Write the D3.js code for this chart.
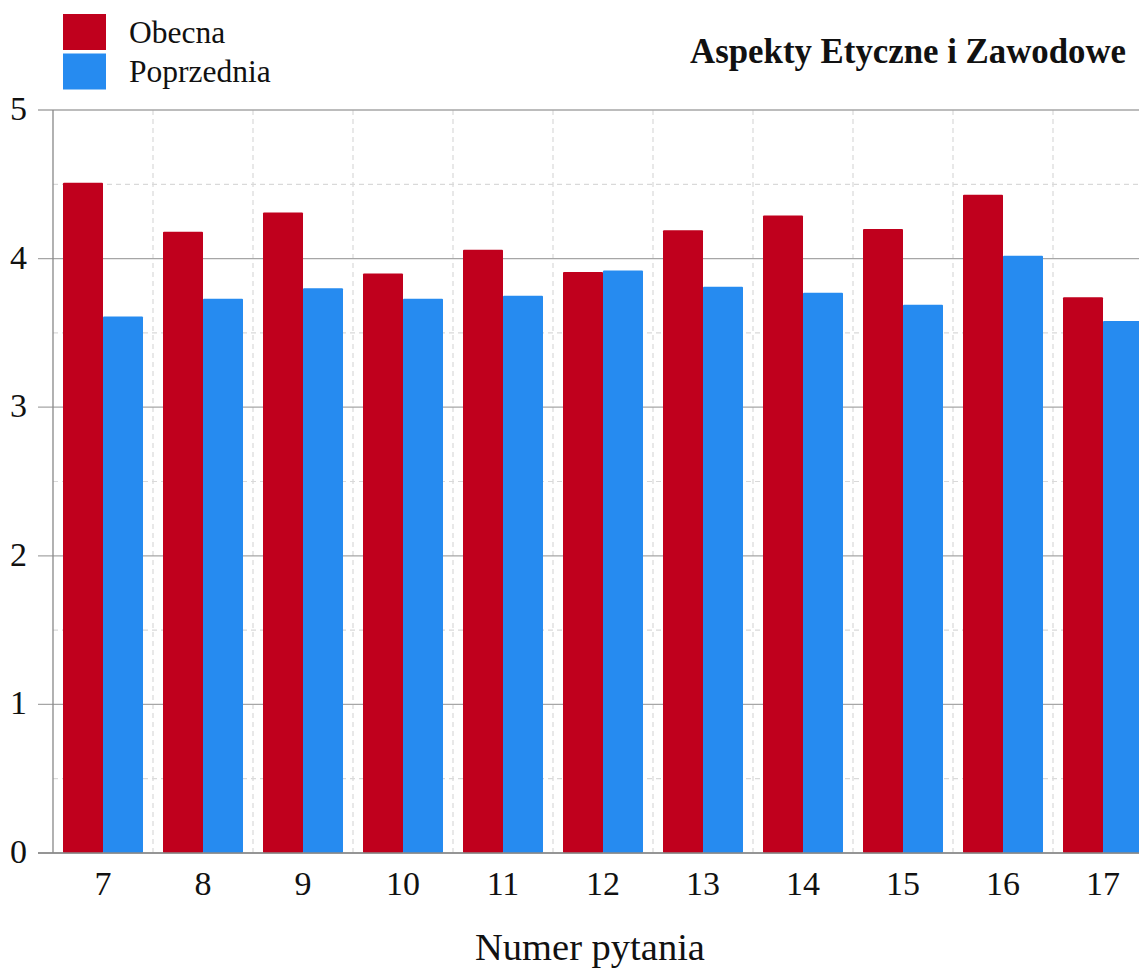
<!DOCTYPE html>
<html><head><meta charset="utf-8">
<script src="https://cdn.jsdelivr.net/npm/d3@7"></script>
<style>body{margin:0;background:#fff}svg{display:block}text{font-family:"Liberation Serif","Times New Roman",serif}</style>
</head><body>
<svg id="c" width="1139" height="971"></svg>
<script>
const categories = ["7","8","9","10","11","12","13","14","15","16","17"];
const obecna = [4.51,4.18,4.31,3.90,4.06,3.91,4.19,4.29,4.20,4.43,3.74];
const poprzednia = [3.61,3.73,3.80,3.73,3.75,3.92,3.81,3.77,3.69,4.02,3.58];
const seriesNames = ["Obecna","Poprzednia"];
const colors = ["#C0001D","#268BF0"];
const yTicks = [0,1,2,3,4,5];
const yMinor = [0.5,1.5,2.5,3.5,4.5];

(function(){
const svg = d3.select("#c");
const pLeft = 53, pTop = 110, pBottom = 853, bandW = 100;
const pRight = pLeft + bandW*categories.length;
const x = d3.scaleBand().domain(categories).range([pLeft, pRight]).paddingInner(0).paddingOuter(0);
const xs = d3.scaleBand().domain(seriesNames).range([0, x.bandwidth()]).paddingInner(0).paddingOuter(0.25);
const y = d3.scaleLinear().domain([0,5]).range([pBottom, pTop]);

const g = svg.append("g");
g.selectAll(".hm").data(yMinor).join("line")
  .attr("x1", pLeft).attr("x2", 1139).attr("y1", d=>y(d)).attr("y2", d=>y(d))
  .attr("stroke","#d9d9d9").attr("stroke-width",1.2).attr("stroke-dasharray","5,4");
g.selectAll(".vg").data(categories.slice(1)).join("line")
  .attr("x1", d=>x(d)).attr("x2", d=>x(d)).attr("y1", pTop).attr("y2", pBottom)
  .attr("stroke","#d9d9d9").attr("stroke-width",1.2).attr("stroke-dasharray","5,4");
g.selectAll(".hg").data(yTicks).join("line")
  .attr("x1", 38).attr("x2", 1139).attr("y1", d=>y(d)).attr("y2", d=>y(d))
  .attr("stroke","#a6a6a6").attr("stroke-width",1.3);

const data = categories.map((c,i)=>({c, vals:[obecna[i], poprzednia[i]]}));
const grp = svg.append("g").selectAll("g").data(data).join("g")
  .attr("transform", d=>`translate(${x(d.c)},0)`);
grp.selectAll("rect").data(d=>d.vals.map((v,j)=>({v, s:seriesNames[j], j}))).join("rect")
  .attr("x", d=>xs(d.s)).attr("width", xs.bandwidth())
  .attr("y", d=>y(d.v)).attr("height", d=>pBottom - y(d.v))
  .attr("fill", d=>colors[d.j]).attr("rx",1);

svg.append("line").attr("x1",pLeft).attr("x2",pLeft).attr("y1",pTop).attr("y2",pBottom)
  .attr("stroke","#888").attr("stroke-width",1.3);
svg.append("line").attr("x1",38).attr("x2",1139).attr("y1",pBottom).attr("y2",pBottom)
  .attr("stroke","#888").attr("stroke-width",1.5);

svg.selectAll(".yl").data(yTicks).join("text")
  .attr("x", 27).attr("y", d=>y(d)+10).attr("text-anchor","end")
  .attr("font-size", 34).attr("fill","#111").text(d=>d);
svg.selectAll(".xl").data(categories).join("text")
  .attr("x", d=>x(d)+x.bandwidth()/2).attr("y", 895).attr("text-anchor","middle")
  .attr("font-size", 34).attr("fill","#111").text(d=>d);

svg.append("text").attr("x", 590).attr("y", 960).attr("text-anchor","middle")
  .attr("font-size", 38.5).attr("fill","#111").text("Numer pytania");

svg.append("text").attr("x", 1126).attr("y", 63).attr("text-anchor","end")
  .attr("font-size", 34.8).attr("font-weight","bold").attr("fill","#111").text("Aspekty Etyczne i Zawodowe");

const leg = svg.append("g");
seriesNames.forEach((s,i)=>{
  leg.append("rect").attr("x",63).attr("y",14+i*39.5).attr("width",43).attr("height",36).attr("fill",colors[i]);
  leg.append("text").attr("x",129).attr("y",43+i*39).attr("font-size",31.5).attr("fill","#111").text(s);
});
})();
</script>
</body></html>
